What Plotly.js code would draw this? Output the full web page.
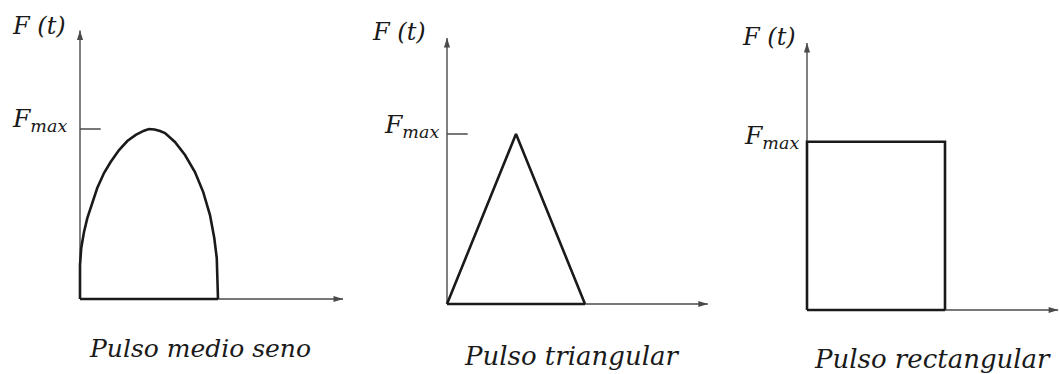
<!DOCTYPE html>
<html>
<head>
<meta charset="utf-8">
<script src="https://cdn.plot.ly/plotly-3.0.1.min.js"></script>
<style>html,body{margin:0;padding:0;background:#fff;}#chart{width:1060px;height:374px;}</style>
</head>
<body>
<div id="chart"></div>
<script>
// ---- data (pulse duration = 1, F_max = 1) ----
const pulseNames = ["Pulso medio seno", "Pulso triangular", "Pulso rectangular"];
const yLabel = "F (t)";
const peakLabel = "F<sub>max</sub>";
const Fmax = 1;

const sineT = [0, 0, 0.009, 0.029, 0.053, 0.089, 0.125, 0.174, 0.222, 0.283, 0.343, 0.404, 0.464, 0.50, 0.54, 0.58, 0.616, 0.688, 0.761, 0.833, 0.893, 0.942, 0.973, 0.991, 0.998, 1.0];
const sineF = [0, 0.20, 0.30, 0.394, 0.476, 0.571, 0.653, 0.741, 0.806, 0.876, 0.929, 0.965, 0.99, 1.0, 0.997, 0.988, 0.976, 0.924, 0.847, 0.747, 0.629, 0.494, 0.359, 0.241, 0.124, 0];

const triT = [0, 0.5, 1.0];
const triF = [0, 1.0, 0];

const rectT = [0, 0, 1.0, 1.0];
const rectF = [0, 0.99, 0.99, 0];

// axis extents (arrow tips) per panel, in data units
const tEnd = [1.906, 1.89, 1.82];
const fEnd = [1.58, 1.565, 1.57];

// ---- layout geometry ----
const W = 1060, H = 374;
const SX = 138, SY = 170;              // px per unit
const origins = [[80, 299], [447, 304], [807, 310]];
const xr = [[-0.45, 1.95], [-0.45, 1.95], [-0.45, 1.83]];
const yr = [[-0.36, 1.72], [-0.36, 1.72], [-0.36, 1.75]];
const labelPos = [   // [F(t) t,F], [Fmax t,F], [caption t,F]
  [[-0.30, 1.606], [-0.29, 1.053], [0.87, -0.294]],
  [[-0.348, 1.60], [-0.26, 1.047], [0.90, -0.306]],
  [[-0.275, 1.606], [-0.26, 1.02], [0.906, -0.288]]
];
const captionSize = [25, 26, 26];

const pulses = [[sineT, sineF], [triT, triF], [rectT, rectF]];
const showTick = [true, true, false];

const curveColor = "#1a1a1a";
const axisColor = "#4a4a4a";
const textColor = "#1a1a1a";
const fontFam = "DejaVu Serif";

const traces = [];
const annotations = [];
const shapes = [];
const layout = {
  width: W, height: H,
  margin: {l: 0, r: 0, t: 0, b: 0},
  paper_bgcolor: "#fff", plot_bgcolor: "rgba(0,0,0,0)",
  showlegend: false,
};

for (let i = 0; i < 3; i++) {
  const sfx = i === 0 ? "" : String(i + 1);
  const xa = "x" + sfx, ya = "y" + sfx;
  const [ox, oy] = origins[i];
  layout["xaxis" + sfx] = {
    visible: false, range: xr[i], fixedrange: true, anchor: ya,
    domain: [(ox + xr[i][0] * SX) / W, (ox + xr[i][1] * SX) / W]
  };
  layout["yaxis" + sfx] = {
    visible: false, range: yr[i], fixedrange: true, anchor: xa,
    domain: [(H - (oy - yr[i][0] * SY)) / H, (H - (oy - yr[i][1] * SY)) / H]
  };
  const [T, F] = pulses[i];
  // axes lines
  traces.push({type: "scatter", mode: "lines", xaxis: xa, yaxis: ya, x: [0, tEnd[i]], y: [0, 0],
    line: {color: axisColor, width: 1.4}, hoverinfo: "skip", cliponaxis: false});
  traces.push({type: "scatter", mode: "lines", xaxis: xa, yaxis: ya, x: [0, 0], y: [0, fEnd[i]],
    line: {color: axisColor, width: 1.4}, hoverinfo: "skip", cliponaxis: false});
  // arrow heads
  traces.push({type: "scatter", mode: "markers", xaxis: xa, yaxis: ya, x: [tEnd[i], 0], y: [0, fEnd[i]],
    marker: {symbol: "arrow", size: 10, angle: [90, 0], color: axisColor, line: {width: 0}},
    hoverinfo: "skip", cliponaxis: false});
  // baseline of pulse
  traces.push({type: "scatter", mode: "lines", xaxis: xa, yaxis: ya, x: [T[0], T[T.length - 1]], y: [0, 0],
    line: {color: curveColor, width: 2.4}, hoverinfo: "skip"});
  // pulse
  traces.push({type: "scatter", mode: "lines", xaxis: xa, yaxis: ya, x: T, y: F,
    line: {color: curveColor, width: 2.6, shape: "linear"}, hoverinfo: "skip"});
  if (showTick[i]) {
    shapes.push({type: "line", xref: xa, yref: ya, x0: 0, x1: 0.15, y0: Fmax, y1: Fmax,
      line: {color: axisColor, width: 1.3}});
  }
  // labels
  const lp = labelPos[i];
  annotations.push({xref: xa, yref: ya, x: lp[0][0], y: lp[0][1], xanchor: "center", yanchor: "middle",
    text: yLabel, showarrow: false, font: {family: fontFam, size: 24, style: "italic", color: textColor}});
  annotations.push({xref: xa, yref: ya, x: lp[1][0], y: lp[1][1], xanchor: "center", yanchor: "middle",
    text: peakLabel, showarrow: false,
    font: {family: fontFam, size: 25, style: "italic", color: textColor}});
  annotations.push({xref: xa, yref: ya, x: lp[2][0], y: lp[2][1], xanchor: "center", yanchor: "middle",
    text: pulseNames[i], showarrow: false, font: {family: fontFam, size: captionSize[i], style: "italic", color: textColor}});
}
layout.annotations = annotations;
layout.shapes = shapes;

Plotly.newPlot("chart", traces, layout, {displayModeBar: false, staticPlot: true});
</script>
</body>
</html>
